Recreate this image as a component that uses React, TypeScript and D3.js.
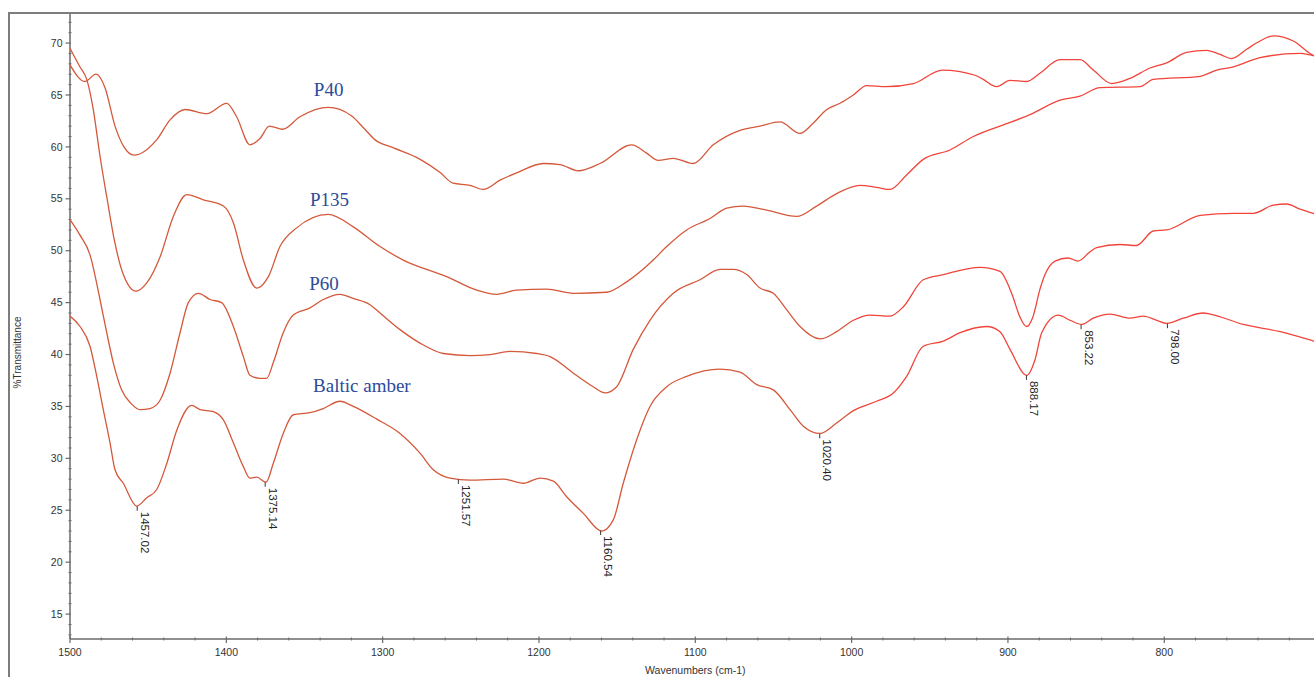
import React from "react";
import * as d3 from "d3";

const W = 1314;
const H = 677;

// Wavenumber (cm-1), %Transmittance
const p40: [number, number][] = [
  [1500, 67.9], [1490.4, 66.3], [1483.4, 67.0], [1477.6, 65.7], [1471.2, 62.0], [1465.5, 60.0],
  [1459.1, 59.2], [1444.5, 60.7], [1436, 62.6], [1426.4, 63.6], [1412.5, 63.2], [1399.8, 64.2],
  [1393.4, 62.9], [1384.9, 60.2], [1378.5, 60.8], [1372.5, 62.0], [1364.0, 61.7], [1352.9, 62.9],
  [1334.8, 63.8], [1320, 63.0], [1312, 61.8], [1305, 60.7], [1293, 59.9], [1276, 58.8],
  [1263, 57.5], [1255, 56.5], [1244, 56.3], [1235.6, 55.9], [1224.9, 56.8], [1214.3, 57.5],
  [1197.2, 58.4], [1186.6, 58.3], [1174.8, 57.7], [1161.0, 58.4], [1140.7, 60.2], [1131.1, 59.4],
  [1123.7, 58.7], [1114.1, 58.9], [1101.3, 58.4], [1088.5, 60.2], [1071.4, 61.6], [1058.6, 62.0],
  [1045.8, 62.4], [1033.0, 61.3], [1024.5, 62.3], [1015.9, 63.6], [1007.4, 64.2], [998.9, 65.0],
  [990.4, 65.9], [978, 65.8], [960.5, 66.1], [942, 67.4], [921, 66.9], [915.8, 66.5],
  [907.2, 65.8], [898.7, 66.4], [888.0, 66.3], [879.5, 67.1], [866.7, 68.4], [853.9, 68.4],
  [845.4, 67.4], [833.6, 66.1], [821.9, 66.6], [809.1, 67.6], [798.5, 68.1], [785.7, 69.1],
  [772.9, 69.3], [764.3, 68.9], [756.9, 68.5], [747.3, 69.4], [738.8, 70.2], [730.2, 70.7],
  [717.4, 70.2], [705.7, 68.9], [700, 68.5],
];

const p135: [number, number][] = [
  [1500, 69.5], [1493.6, 67.7], [1489.3, 66.5], [1485.1, 63.6], [1480.8, 59.1], [1476.5, 55.2],
  [1471.2, 50.7], [1465.9, 47.7], [1457.8, 46.1], [1450.9, 46.9], [1442.4, 49.4], [1433.9, 53.3],
  [1425.3, 55.4], [1414.7, 54.9], [1401.9, 54.3], [1395.5, 52.7], [1389.1, 49.1], [1380.6, 46.4],
  [1373.1, 47.5], [1365.7, 50.4], [1355.0, 52.2], [1334.8, 53.5], [1318.8, 52.3], [1301.7, 50.4],
  [1286.8, 49.1], [1259.0, 47.5], [1239.8, 46.2], [1227.0, 45.8], [1214.3, 46.2], [1195.0, 46.3],
  [1178.0, 45.9], [1156.7, 46.0], [1143.9, 47.0], [1126.9, 49.1], [1119, 50.3], [1105.5, 52.0],
  [1090.6, 53.1], [1079.9, 54.1], [1069.3, 54.3], [1054.3, 53.9], [1035.1, 53.3], [1022.4, 54.3],
  [1009.6, 55.5], [994.6, 56.3], [984.0, 56.1], [975.5, 55.9], [964.8, 57.3], [954.2, 58.8],
  [937.1, 59.7], [922.1, 61.0], [905.1, 62.0], [885.9, 63.1], [866.7, 64.5], [853.9, 64.9],
  [841.1, 65.7], [815.5, 65.8], [807.0, 66.5], [777.0, 66.8], [766.4, 67.4], [755.7, 67.7],
  [738.8, 68.6], [713.2, 69.0], [704.7, 68.8], [700, 68.7],
];

const p60: [number, number][] = [
  [1500, 53.0], [1493.6, 51.5], [1487.2, 49.6], [1480.8, 45.3], [1476.5, 42.1], [1472.3, 39.2],
  [1467.0, 36.6], [1461, 35.3], [1455.2, 34.7], [1448.8, 34.8], [1442.4, 35.6], [1436.0, 38.2],
  [1429.6, 42.1], [1424.3, 45.0], [1417.9, 45.9], [1410.4, 45.3], [1403.0, 45.0], [1395.5, 42.7],
  [1389.1, 39.8], [1384.9, 38.0], [1378.5, 37.7], [1374.2, 37.7], [1370.0, 39.2], [1363.6, 42.1],
  [1357.2, 43.8], [1346.5, 44.5], [1338.0, 45.3], [1327.3, 45.8], [1318.8, 45.4], [1308.1, 44.8],
  [1301.7, 44.0], [1288.9, 42.4], [1276.1, 41.1], [1261.2, 40.1], [1244.1, 39.9], [1231.3, 40.0],
  [1218.5, 40.3], [1201.5, 40.1], [1192.9, 39.8], [1178.0, 38.2], [1165.3, 36.9], [1157.8, 36.3],
  [1150.3, 36.9], [1139.7, 40.5], [1129.0, 43.3], [1114.1, 45.9], [1097.0, 47.2], [1084.2, 48.2],
  [1075.7, 48.2], [1067.1, 47.7], [1058.6, 46.4], [1050.1, 45.9], [1041.5, 44.3], [1033.0, 42.7],
  [1020.2, 41.5], [1009.6, 42.2], [998.9, 43.3], [988.2, 43.8], [975.5, 43.7], [966.9, 44.6],
  [954.2, 47.2], [941.3, 47.7], [917.9, 48.4], [905.1, 48.0], [897.4, 45.8], [892.3, 43.6],
  [888.0, 42.7], [884.1, 43.6], [879.5, 46.3], [876.3, 47.7], [869.9, 49.0], [861.6, 49.3],
  [855.2, 49.0], [847.5, 49.9], [843.3, 50.3], [828.4, 50.6], [817.8, 50.5], [807.0, 51.9],
  [798.5, 52.0], [777.0, 53.4], [755.7, 53.6], [743.0, 53.6], [730.2, 54.4], [721.7, 54.5],
  [713.2, 54.0], [704.7, 53.6], [700, 53.4],
];

const baltic: [number, number][] = [
  [1500, 43.7], [1493.6, 42.7], [1487.2, 40.8], [1482.9, 37.9], [1478.7, 34.7], [1474.4, 31.5],
  [1471.2, 28.9], [1465.9, 27.6], [1457.3, 25.4], [1450.9, 26.2], [1444.5, 27.0], [1438.1, 29.5],
  [1431.7, 32.7], [1422.2, 35.1], [1416.8, 34.7], [1408.3, 34.5], [1401.9, 33.7], [1395.5, 31.5],
  [1389.1, 29.2], [1384.9, 28.1], [1380.6, 28.2], [1374.6, 27.7], [1370.0, 29.5], [1363.6, 32.4],
  [1357.2, 34.2], [1346.5, 34.4], [1338.0, 34.8], [1327.3, 35.5], [1318.8, 35.0], [1304, 33.8],
  [1288.9, 32.4], [1276.1, 30.5], [1267.6, 28.9], [1256.9, 28.1], [1244.1, 27.9], [1222.8, 28.0],
  [1210.0, 27.6], [1199.3, 28.1], [1190.8, 27.8], [1182.3, 26.3], [1171.6, 24.7], [1159.9, 23.0],
  [1152.4, 24.1], [1146.1, 27.6], [1137.5, 31.8], [1129.0, 35.0], [1118.3, 36.9], [1105.5, 37.9],
  [1084.2, 38.6], [1071.4, 38.3], [1060.7, 37.1], [1050.1, 36.6], [1039.4, 34.7], [1030.9, 33.1],
  [1020.2, 32.4], [1009.6, 33.4], [998.9, 34.6], [984.0, 35.5], [973.3, 36.3], [964.8, 37.9],
  [954.2, 40.8], [941.3, 41.3], [930.6, 42.1], [913.6, 42.7], [905.1, 42.2], [898.7, 40.5],
  [888.0, 38.0], [882.7, 39.5], [878.4, 42.1], [867.8, 43.8], [860.3, 43.3], [852.8, 42.9],
  [845.4, 43.5], [834.7, 43.9], [821.9, 43.5], [813.4, 43.7], [804.8, 43.3], [798.4, 43.0],
  [787.8, 43.5], [775.0, 44.0], [770.7, 43.9], [749.4, 42.9], [725.8, 42.2], [704.5, 41.3],
  [700, 41.1],
];

const seriesNames = ["P40", "P135", "P60", "Baltic amber"];
const seriesData = [p40, p135, p60, baltic];
// label anchor in data units (wavenumber, %T)
const seriesLabelWn = [1344, 1346.5, 1347, 1344.5];
const seriesLabelT = [64.9, 54.3, 46.2, 36.4];

const peakLabels = [1457.02, 1375.14, 1251.57, 1160.54, 1020.4, 888.17, 853.22, 798.0];

const xMajor = [1500, 1400, 1300, 1200, 1100, 1000, 900, 800];
const yMajor = [15, 20, 25, 30, 35, 40, 45, 50, 55, 60, 65, 70];

export default function App() {
  const x = d3.scaleLinear().domain([1500, 700]).range([70, 1320.6]);
  const y = d3.scaleLinear().domain([12.6, 72.8]).range([639, 14]);

  const line = d3
    .line<[number, number]>()
    .x((d) => x(d[0]))
    .y((d) => y(d[1]))
    .curve(d3.curveMonotoneX);

  const xMinor = d3.range(1500, 699, -20).filter((v) => v % 100 !== 0);
  const yMinor = d3.range(13, 73, 1).filter((v) => v % 5 !== 0);

  const interp = (data: [number, number][], wn: number) => {
    for (let i = 0; i < data.length - 1; i++) {
      const a = data[i];
      const b = data[i + 1];
      if (wn <= a[0] && wn >= b[0]) {
        const t = (a[0] - wn) / (a[0] - b[0]);
        return a[1] + t * (b[1] - a[1]);
      }
    }
    return data[data.length - 1][1];
  };

  const splitOffset = (x(1000) - 70) / (W - 70);
  const axisColor = "#6a6a6a";
  const sans = "Arial, 'Liberation Sans', sans-serif";

  return (
    <div style={{ position: "absolute", left: 0, top: 0, width: W, height: H, background: "#fff" }}>
      <svg width={W} height={H} style={{ display: "block" }}>
        <defs>
          <linearGradient id="lineGrad" gradientUnits="userSpaceOnUse" x1={70} y1={0} x2={W} y2={0}>
            <stop offset={0} stopColor="#d4583a" />
            <stop offset={splitOffset} stopColor="#d4583a" />
            <stop offset={splitOffset} stopColor="#f0443a" />
            <stop offset={1} stopColor="#f0443a" />
          </linearGradient>
          <clipPath id="plotClip">
            <rect x={70} y={14} width={W - 70} height={625} />
          </clipPath>
        </defs>
        <rect x={0} y={0} width={W} height={H} fill="#fff" />

        {/* outer frame */}
        <line x1={8} y1={13} x2={W} y2={13} stroke="#7d7d7d" strokeWidth={2} />
        <line x1={9} y1={13} x2={9} y2={H} stroke="#7d7d7d" strokeWidth={2} />

        {/* y axis */}
        <line x1={70} y1={14} x2={70} y2={639} stroke={axisColor} strokeWidth={1.5} />
        {yMinor.map((v) => (
          <line key={"ym" + v} x1={68.5} x2={71.5} y1={y(v)} y2={y(v)} stroke={axisColor} strokeWidth={1} />
        ))}
        {yMajor.map((v) => (
          <g key={"yM" + v}>
            <line x1={65.5} x2={71} y1={y(v)} y2={y(v)} stroke={axisColor} strokeWidth={1.2} />
            <text x={62.5} y={y(v)} dy="0.35em" textAnchor="end" fontFamily={sans} fontSize={10.5} fill="#333">
              {v}
            </text>
          </g>
        ))}
        <text
          transform={`translate(21, ${y(40.2)}) rotate(-90)`}
          textAnchor="middle"
          fontFamily={sans}
          fontSize={10}
          fill="#333"
        >
          %Transmittance
        </text>

        {/* x axis */}
        <line x1={70} y1={639} x2={W} y2={639} stroke={axisColor} strokeWidth={1.5} />
        {xMinor.map((v) => (
          <line key={"xm" + v} x1={x(v)} x2={x(v)} y1={637.5} y2={640.5} stroke={axisColor} strokeWidth={1} />
        ))}
        {xMajor.map((v) => (
          <g key={"xM" + v}>
            <line x1={x(v)} x2={x(v)} y1={636.5} y2={643} stroke={axisColor} strokeWidth={1.2} />
            <text x={x(v)} y={655.5} textAnchor="middle" fontFamily={sans} fontSize={10.5} fill="#333">
              {v}
            </text>
          </g>
        ))}
        <text x={x(1100)} y={674} textAnchor="middle" fontFamily={sans} fontSize={10.5} fill="#333">
          Wavenumbers (cm-1)
        </text>

        {/* spectra */}
        <g clipPath="url(#plotClip)">
          {seriesData.map((d, i) => (
            <path key={seriesNames[i]} d={line(d) || ""} fill="none" stroke="url(#lineGrad)" strokeWidth={1.3} />
          ))}
        </g>

        {/* series labels */}
        {seriesNames.map((n, i) => (
          <text
            key={"lbl" + n}
            x={x(seriesLabelWn[i])}
            y={y(seriesLabelT[i])}
            fontFamily="'Liberation Serif', 'Times New Roman', serif"
            fontSize={19}
            fill="#2d4b9a"
          >
            {n}
          </text>
        ))}

        {/* peak labels */}
        {peakLabels.map((p) => {
          const px = x(p);
          const py = y(interp(baltic, p));
          return (
            <g key={"pk" + p}>
              <line x1={px} x2={px} y1={py + 0.5} y2={py + 5} stroke="#333" strokeWidth={1} />
              <text
                transform={`translate(${px + 3.5}, ${py + 6}) rotate(90)`}
                fontFamily={sans}
                fontSize={11.5}
                fill="#222"
              >
                {p.toFixed(2)}
              </text>
            </g>
          );
        })}
      </svg>
    </div>
  );
}
